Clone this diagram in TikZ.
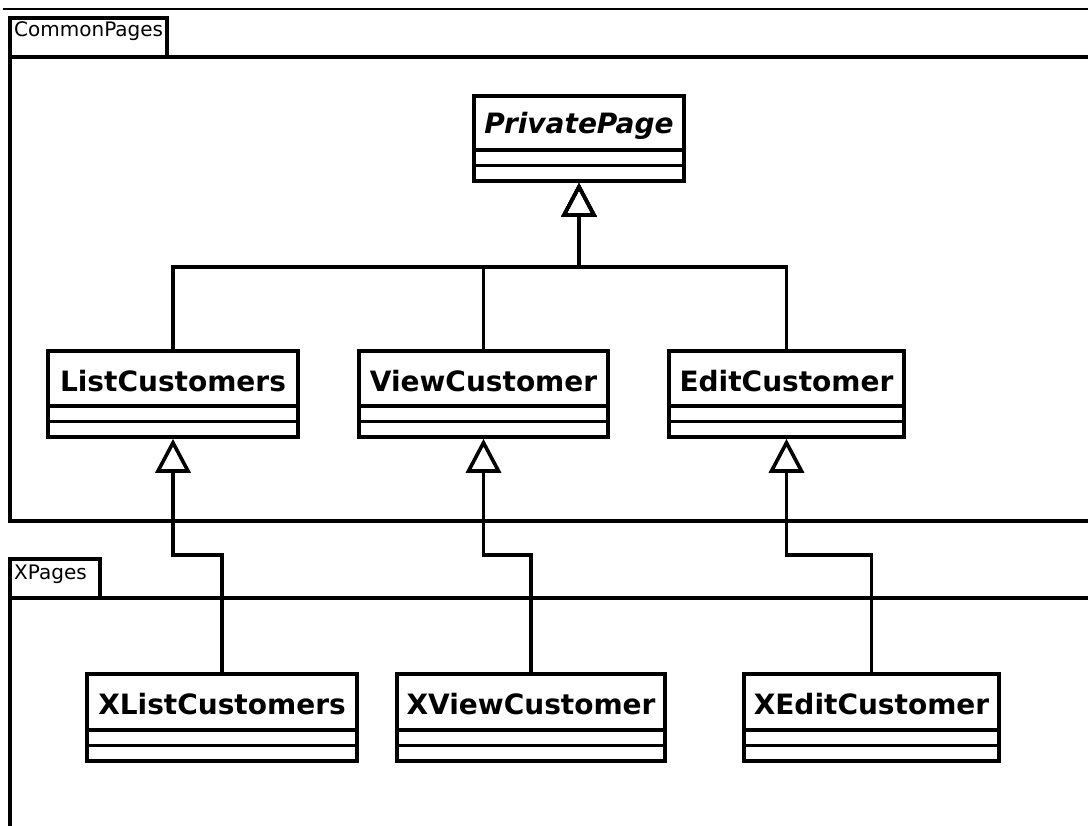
\documentclass[tikz,border=0pt]{standalone}
\usepackage{fontspec}
\setmainfont{DejaVu Sans}
\usetikzlibrary{arrows.meta,fit}

% UML class box: name, left, top, right, bottom, label
\newcommand\umlclass[6]{%
  \node[classbox, fit={(#2,#3) (#4,#5)}] (#1) {};
  \draw[uml] (#2,{#5-31}) -- (#4,{#5-31});
  \draw[uml] (#2,{#5-15.5}) -- (#4,{#5-15.5});
  \node[classname] at ({(#2+#4)/2},{(#3+#5-31)/2+2.5}) {#6};
}

\tikzset{
  uml/.style={line width=3.6pt, draw=black},
  classbox/.style={uml, rectangle, inner sep=0pt},
  classname/.style={font=\fontsize{28}{31}\selectfont\bfseries, inner sep=0pt},
  pkglabel/.style={font=\fontsize{20}{23}\selectfont, inner sep=0pt, anchor=base west},
  gen/.style={uml, -{Triangle[open, length=34pt, width=35pt, line width=3.6pt]}},
}

\begin{document}
\begin{tikzpicture}[x=1pt, y=-1pt]
  \useasboundingbox (0,0) rectangle (1088,826);
  \clip (0,0) rectangle (1088,826);

  % frame line along the top
  \draw[line width=2.6pt] (3,9) -- (1100,9);

  % package CommonPages
  \draw[uml] (10,18) rectangle (167,57);
  \node[pkglabel] (pkgA) at (14,37) {CommonPages};
  \draw[uml] (1100,57) -- (10,57) -- (10,521) -- (1100,521);

  % package XPages
  \draw[uml] (10,559) rectangle (100,598);
  \node[pkglabel] (pkgB) at (14,579) {XPages};
  \draw[uml] (1100,598) -- (10,598) -- (10,840);

  % classes
  \umlclass{pp}{474}{96}{684}{181}{\itshape PrivatePage}
  \umlclass{lc}{48}{351}{298}{437}{ListCustomers}
  \umlclass{vc}{359}{351}{608}{437}{ViewCustomer}
  \umlclass{ec}{669}{351}{904}{437}{EditCustomer}
  \umlclass{xlc}{87}{674}{357}{761}{XListCustomers}
  \umlclass{xvc}{397}{674}{665}{761}{XViewCustomer}
  \umlclass{xec}{744}{674}{999}{761}{XEditCustomer}

  % routing rows
  \coordinate (bus) at (579,267);
  \coordinate (row) at (0,555);

  % generalizations to PrivatePage
  \draw[gen] (lc.north) |- (bus) -- (pp.south);
  \draw[gen] (vc.north) |- (bus) -- (pp.south);
  \draw[gen] (ec.north) |- (bus) -- (pp.south);

  % generalizations from XPages
  \draw[gen] (xlc.north) |- (lc.south |- row) -- (lc.south);
  \draw[gen] (xvc.north) |- (vc.south |- row) -- (vc.south);
  \draw[gen] (xec.north) |- (ec.south |- row) -- (ec.south);
\end{tikzpicture}
\end{document}
